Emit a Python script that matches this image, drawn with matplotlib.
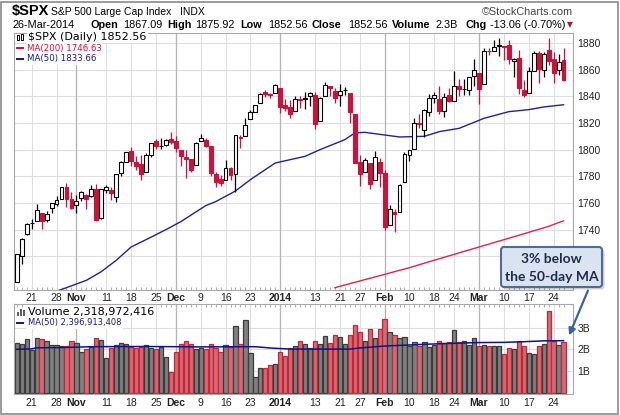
import numpy as np
import pandas as pd
import matplotlib
matplotlib.use("Agg")
import matplotlib.pyplot as plt
from matplotlib.patches import FancyBboxPatch, Rectangle, FancyArrowPatch
from matplotlib.transforms import IdentityTransform

plt.rcParams['font.family'] = ['Liberation Sans', 'DejaVu Sans']

# trading days on the chart (exchange holidays removed)
holidays = ['2013-11-28', '2013-12-25', '2014-01-01', '2014-01-20', '2014-02-17']
dates = pd.bdate_range('2013-10-16', '2014-03-26')
dates = dates[~dates.isin(pd.to_datetime(holidays))]

prev_close = 1698.06  # close of the day before the first bar

opens = [1700.49, 1720.17, 1736.72, 1745.20, 1746.48, 1752.27, 1747.48, 1756.01, 1759.42, 1762.93,
         1772.27, 1763.24, 1758.70, 1763.40, 1765.67, 1765.00, 1770.74, 1748.37, 1769.96, 1769.51,
         1764.37, 1782.75, 1790.66, 1798.82, 1790.79, 1789.59, 1783.52, 1796.19, 1806.33, 1802.87,
         1803.48, 1808.01, 1806.55, 1800.10, 1794.15, 1792.82, 1788.36, 1806.21, 1807.60, 1802.76,
         1781.71, 1777.98, 1777.48, 1786.47, 1781.46, 1809.00, 1810.39, 1822.92, 1828.02, 1834.96,
         1842.97, 1841.47, 1842.61, 1845.86, 1833.21, 1832.31, 1828.71, 1837.90, 1839.00, 1840.06,
         1841.26, 1821.36, 1840.52, 1847.99, 1844.23, 1841.05, 1844.71, 1842.29, 1826.96, 1791.03,
         1783.00, 1790.15, 1777.17, 1790.88, 1782.68, 1743.82, 1753.38, 1752.99, 1776.01, 1796.20,
         1800.45, 1820.12, 1814.82, 1828.46, 1839.03, 1838.22, 1829.24, 1841.07, 1836.78, 1847.66,
         1845.79, 1844.90, 1855.12, 1857.68, 1849.23, 1874.05, 1874.18, 1878.52, 1877.86, 1878.26,
         1866.15, 1869.06, 1845.07, 1842.81, 1858.92, 1872.25, 1860.09, 1874.53, 1867.67, 1859.48,
         1867.09]
highs = [1721.76, 1733.45, 1745.31, 1747.79, 1759.33, 1752.27, 1753.94, 1759.82, 1764.99, 1772.09,
         1775.22, 1768.53, 1765.67, 1768.78, 1767.03, 1773.74, 1774.54, 1770.78, 1773.44, 1771.78,
         1782.00, 1791.53, 1798.22, 1802.33, 1795.51, 1795.73, 1797.16, 1804.84, 1808.10, 1808.42,
         1808.27, 1813.55, 1810.02, 1800.10, 1799.80, 1792.82, 1806.04, 1811.52, 1808.52, 1802.97,
         1782.99, 1780.92, 1792.22, 1786.77, 1811.08, 1810.88, 1823.75, 1829.75, 1833.32, 1842.84,
         1844.89, 1842.47, 1849.44, 1845.86, 1838.24, 1837.16, 1840.10, 1840.02, 1843.23, 1843.15,
         1843.45, 1839.26, 1850.84, 1847.99, 1846.04, 1849.31, 1846.87, 1842.29, 1826.96, 1795.98,
         1793.87, 1790.15, 1798.77, 1793.88, 1784.83, 1758.73, 1755.79, 1774.06, 1798.03, 1799.94,
         1823.54, 1826.55, 1830.25, 1841.65, 1842.87, 1847.50, 1842.79, 1846.13, 1858.71, 1852.91,
         1852.65, 1854.53, 1867.92, 1857.68, 1876.23, 1876.53, 1881.94, 1883.57, 1877.87, 1882.35,
         1868.38, 1874.40, 1852.44, 1862.30, 1873.76, 1874.14, 1873.49, 1883.97, 1873.34, 1871.87,
         1875.92]
lows = [1700.49, 1714.12, 1735.74, 1740.67, 1746.48, 1740.50, 1745.50, 1752.45, 1757.67, 1762.93,
        1757.24, 1755.72, 1752.70, 1761.56, 1755.76, 1764.23, 1746.20, 1747.63, 1767.85, 1762.29,
        1760.64, 1780.22, 1790.66, 1788.00, 1784.72, 1777.23, 1783.52, 1794.70, 1800.58, 1800.77,
        1802.77, 1803.98, 1798.60, 1787.85, 1779.09, 1783.38, 1788.36, 1806.21, 1801.75, 1780.09,
        1772.28, 1772.45, 1777.48, 1777.05, 1767.99, 1801.35, 1810.25, 1822.92, 1828.02, 1834.96,
        1839.81, 1838.77, 1842.41, 1827.74, 1829.13, 1823.73, 1828.71, 1831.40, 1830.38, 1832.43,
        1815.52, 1821.36, 1840.52, 1840.30, 1835.23, 1832.38, 1840.88, 1820.06, 1790.29, 1772.88,
        1783.00, 1770.45, 1777.17, 1772.26, 1739.66, 1743.82, 1737.92, 1752.99, 1776.01, 1791.83,
        1800.41, 1815.97, 1809.22, 1825.59, 1835.01, 1826.99, 1824.58, 1835.60, 1836.78, 1840.19,
        1840.66, 1841.13, 1847.67, 1834.44, 1849.23, 1871.11, 1874.18, 1870.56, 1867.04, 1863.88,
        1854.38, 1841.86, 1839.57, 1842.81, 1858.92, 1850.35, 1854.63, 1863.46, 1849.69, 1855.96,
        1852.56]
closes = [1721.54, 1733.15, 1744.50, 1744.66, 1754.67, 1746.38, 1752.07, 1759.77, 1762.11, 1771.95,
          1763.31, 1756.54, 1761.64, 1767.93, 1762.97, 1770.49, 1747.15, 1770.61, 1771.89, 1767.69,
          1782.00, 1790.62, 1798.18, 1791.53, 1787.87, 1781.37, 1795.85, 1804.76, 1802.48, 1802.75,
          1807.23, 1805.81, 1800.90, 1795.15, 1792.81, 1785.03, 1805.09, 1808.37, 1802.62, 1782.22,
          1775.50, 1775.32, 1786.54, 1781.00, 1810.65, 1809.60, 1818.32, 1827.99, 1833.32, 1842.02,
          1841.40, 1841.07, 1848.36, 1831.98, 1831.37, 1826.77, 1837.88, 1837.49, 1838.13, 1842.37,
          1819.20, 1838.88, 1848.38, 1845.89, 1838.70, 1843.80, 1844.86, 1828.46, 1790.29, 1781.56,
          1792.50, 1774.20, 1794.19, 1782.59, 1741.89, 1755.20, 1751.64, 1773.43, 1797.02, 1799.84,
          1819.75, 1819.26, 1829.83, 1838.63, 1840.76, 1828.75, 1839.78, 1836.25, 1847.61, 1845.12,
          1845.16, 1854.29, 1859.45, 1845.73, 1873.91, 1873.81, 1877.03, 1878.04, 1877.17, 1867.63,
          1868.20, 1846.34, 1841.13, 1858.83, 1872.25, 1860.77, 1872.01, 1866.52, 1857.44, 1865.62,
          1852.56]
# volume in billions of shares
volume = [2.29, 2.23, 2.47, 1.97, 2.51, 2.46, 2.40, 2.18, 2.18, 2.14,
          2.15, 2.37, 2.28, 1.86, 2.00, 2.10, 2.51, 2.41, 1.59, 2.06,
          2.18, 2.27, 2.24, 2.12, 2.07, 2.11, 2.22, 2.05, 2.00, 2.12,
          1.63, 0.95, 1.86, 2.26, 2.37, 2.26, 2.00, 2.06, 2.00, 2.23,
          2.05, 1.86, 2.18, 2.11, 3.06, 2.23, 3.34, 1.82, 0.71, 1.12,
          1.12, 1.26, 1.31, 1.86, 1.69, 2.07, 2.14, 2.37, 2.23, 2.07,
          2.37, 2.23, 2.60, 2.28, 2.65, 2.55, 2.23, 2.65, 3.11, 2.78,
          2.37, 2.92, 2.51, 2.92, 3.38, 2.78, 2.65, 2.51, 2.55, 2.14,
          2.32, 2.14, 2.32, 2.09, 2.18, 2.37, 2.28, 2.32, 2.88, 2.32,
          2.37, 2.18, 2.51, 2.14, 2.18, 2.14, 2.14, 2.14, 1.78, 2.05,
          2.00, 2.37, 2.14, 1.82, 1.77, 2.14, 2.23, 3.75, 2.37, 2.18,
          2.319]

ma200_dates = ['2014-01-17', '2014-01-24', '2014-01-29', '2014-02-04', '2014-02-10', '2014-02-14',
               '2014-02-24', '2014-03-03', '2014-03-10', '2014-03-17', '2014-03-21', '2014-03-26']
ma200_vals = [1696.5, 1700.5, 1703.5, 1707.5, 1711.5, 1716.0, 1721.5, 1727.0, 1732.5, 1738.0, 1742.5, 1746.63]

ma50_dates = ['2013-10-25', '2013-10-30', '2013-11-05', '2013-11-08', '2013-11-13', '2013-11-18',
              '2013-11-21', '2013-11-27', '2013-12-03', '2013-12-10', '2013-12-12', '2013-12-18',
              '2013-12-23', '2013-12-31', '2014-01-09', '2014-01-14', '2014-01-22', '2014-01-24',
              '2014-01-28', '2014-02-03', '2014-02-06', '2014-02-13', '2014-02-19', '2014-02-25',
              '2014-03-04', '2014-03-11', '2014-03-17', '2014-03-20', '2014-03-26']
ma50_vals = [1692.5, 1696.5, 1702.0, 1708.5, 1717.0, 1727.0, 1732.5, 1740.0, 1746.0, 1758.0,
             1761.0, 1769.0, 1777.5, 1790.0, 1795.0, 1800.0, 1807.5, 1812.5, 1813.0, 1811.0,
             1809.5, 1810.0, 1813.5, 1816.0, 1823.5, 1828.5, 1830.0, 1832.0, 1833.66]

vol_ma_dates = ['2013-10-16', '2013-10-21', '2013-10-22', '2013-10-29', '2013-11-06', '2013-11-21',
                '2013-12-09', '2013-12-24', '2013-12-30', '2014-01-06', '2014-01-23', '2014-01-27',
                '2014-02-03', '2014-02-07', '2014-02-13', '2014-02-24', '2014-03-03', '2014-03-10',
                '2014-03-14', '2014-03-20', '2014-03-26']
vol_ma_vals = [2.00, 2.02, 2.07, 2.08, 2.12, 2.13, 2.11, 2.12, 2.06, 2.01, 2.01, 2.06,
               2.15, 2.19, 2.23, 2.28, 2.31, 2.32, 2.35, 2.39, 2.397]

tick_dates = ['2013-10-21', '2013-10-28', '2013-11-01', '2013-11-11', '2013-11-18', '2013-11-25',
              '2013-12-02', '2013-12-09', '2013-12-16', '2013-12-23', '2014-01-02', '2014-01-13',
              '2014-01-21', '2014-01-27', '2014-02-03', '2014-02-10', '2014-02-18', '2014-02-24',
              '2014-03-03', '2014-03-10', '2014-03-17', '2014-03-24']
tick_labels = ['21', '28', 'Nov', '11', '18', '25', 'Dec', '9', '16', '23', '2014', '13',
               '21', '27', 'Feb', '10', '18', '24', 'Mar', '10', '17', '24']
bold_labels = ['Nov', 'Dec', '2014', 'Feb', 'Mar']

price_ticks = [1720, 1740, 1760, 1780, 1800, 1820, 1840, 1860, 1880]
price_labels = ['', '1740', '1760', '1780', '1800', '1820', '1840', '1860', '1880']  # 1720 sits under the callout

header = [('26-Mar-2014', 'normal'), ('Open', 'bold'), ('1867.09', 'normal'), ('High', 'bold'),
          ('1875.92', 'normal'), ('Low', 'bold'), ('1852.56', 'normal'), ('Close', 'bold'),
          ('1852.56', 'normal'), ('Volume', 'bold'), ('2.3B', 'normal'), ('Chg', 'bold'),
          ('-13.06 (-0.70%)', 'normal')]
header_x = [12.7, 91, 123, 167, 195, 240, 268, 312, 348, 392, 436, 466, 490]

W, H = 620, 415
fig = plt.figure(figsize=(W / 100, H / 100), dpi=100)


def rect(l, t, r, b):
    return [l / W, 1 - b / H, (r - l) / W, (b - t) / H]


def ftext(px, py, s, **kw):
    return fig.text(px / W, 1 - py / H, s, **kw)


def fpatch(p):
    p.set_transform(IdentityTransform())
    fig.add_artist(p)


ax = fig.add_axes(rect(14, 32.7, 573, 290))
axv = fig.add_axes(rect(14, 304, 573, 394.3))

x = np.arange(len(dates))
o, h, l, c = (np.array(v) for v in (opens, highs, lows, closes))
pc = np.r_[prev_close, c[:-1]]
down = c < pc
RED = '#d0103a'
col = np.where(down, RED, '#000000')
face = np.where(c > o, '#ffffff', col)

# candles
ax.vlines(x, l, h, colors=col, lw=0.9, zorder=3)
ax.bar(x, np.maximum(np.abs(c - o), 0.3), bottom=np.minimum(o, c), width=0.78,
       color=face, edgecolor=col, linewidth=0.8, zorder=4)

# moving averages
p200 = dates.get_indexer(pd.to_datetime(ma200_dates))
ax.plot(p200, ma200_vals, color='#dc2450', lw=1.0, zorder=2)
p50 = dates.get_indexer(pd.to_datetime(ma50_dates))
ax.plot(p50, ma50_vals, color='#22228f', lw=1.0, zorder=2)
ax.set_ylim(1694.75, 1887.7)
ax.set_yticks(price_ticks)
ax.set_yticklabels(price_labels)

# volume
vface = np.where(down, '#d46b74', '#808080')
vedge = np.where(down, '#c3283a', '#3c3c3c')
axv.bar(x, volume, width=0.86, color=vface, edgecolor=vedge, linewidth=0.9, zorder=2)
pv = dates.get_indexer(pd.to_datetime(vol_ma_dates))
axv.plot(pv, vol_ma_vals, color='#12128a', lw=1.1, zorder=3)
axv.set_ylim(-0.074, 4.088)
axv.set_yticks([1, 2, 3])
axv.set_yticklabels(['1B', '2B', '3B'])

tpos = dates.get_indexer(pd.to_datetime(tick_dates))
for a in (ax, axv):
    a.set_xlim(-0.56, 111.9)
    a.set_xticks(tpos)
    a.set_xticklabels(tick_labels)
    for t in a.get_xticklabels():
        if t.get_text() in bold_labels:
            t.set_fontweight('bold')
    a.set_xticks(x, minor=True)
    a.tick_params(axis='x', which='major', length=0, pad=2.5, labelsize=7.5, labelcolor='#222222')
    a.tick_params(axis='x', which='minor', direction='in', length=2, width=0.6, color='#a0a0a0')
    a.yaxis.tick_right()
    a.tick_params(axis='y', length=0, pad=3, labelsize=7.5, labelcolor='#222222')
    a.grid(True, which='major', color='#dedede', lw=0.8)
    a.set_axisbelow(True)
    for p, lab in zip(tpos, tick_labels):
        if lab in bold_labels:
            a.axvline(p, color='#b4b4b4', lw=0.9, zorder=0.6)
    for s in a.spines.values():
        s.set_color('#a8a8a8')
        s.set_linewidth(0.8)
axv.tick_params(axis='x', which='minor', top=True)

# header
ftext(12, 11.5, '\\$SPX', fontsize=10.5, fontweight='bold', va='center')
ftext(51, 12, 'S&P 500 Large Cap Index', fontsize=7.5, va='center')
ftext(180, 12, 'INDX', fontsize=7.5, va='center')
ftext(573, 12, '\u00a9StockCharts.com', fontsize=7.8, va='center', ha='right', color='#444444')
for (s, w), px in zip(header, header_x):
    ftext(px, 24.5, s, fontsize=7.8, fontweight=w, va='center')
ftext(570, 24.5, '\u25bc', fontsize=5.5, va='center', ha='center', color='#a01838', family='DejaVu Sans')

# legends
wb = dict(fc='white', ec='none', pad=1.0)
ftext(28, 36.7, '\\$SPX (Daily) 1852.56', fontsize=8, va='center', family='DejaVu Sans', bbox=wb)
ftext(27, 48, 'MA(200) 1746.63', fontsize=6.2, va='center', color='#cc1040', family='DejaVu Sans', bbox=wb)
ftext(27, 59, 'MA(50) 1833.66', fontsize=6.2, va='center', color='#1a1a88', family='DejaVu Sans', bbox=wb)
ftext(27.7, 311.7, 'Volume 2,318,972,416', fontsize=8, va='center', family='DejaVu Sans', bbox=wb)
ftext(27.7, 322.7, 'MA(50) 2,396,913,408', fontsize=6, va='center', color='#1a1a88', family='DejaVu Sans', bbox=wb)
for py, cc in [(48, '#cc1040'), (59, '#1a1a88'), (322.7, '#1a1a88')]:
    fpatch(Rectangle((16, H - py - 1), 8, 2, fc=cc, ec='none'))
# little candle icon and volume icon
for bx, by, bh in [(16.5, 34.5, 5), (20.5, 33.5, 6)]:
    fpatch(Rectangle((bx, H - by - bh), 2.2, bh, fc='white', ec='black', lw=0.7))
for bx, bh in [(17, 4), (20, 7), (23, 5.5)]:
    fpatch(Rectangle((bx, H - 315.5), 2, bh, fc='#606060', ec='none'))

# callout
fpatch(FancyBboxPatch((503.5, H - 289.5), 101, 40, boxstyle='round,pad=0,rounding_size=3',
                      fc='#000000', ec='none', alpha=0.18))
fpatch(FancyBboxPatch((501, H - 287), 101, 40, boxstyle='round,pad=0,rounding_size=3',
                      fc='#dae4f1', ec='#4d6d99', lw=1.5))
ftext(551.5, 259, '3% below', fontsize=10, fontweight='bold', ha='center', va='center',
      color='#1d2b4f', family='Lato')
ftext(551.5, 277, 'the 50-day MA', fontsize=10, fontweight='bold', ha='center', va='center',
      color='#1d2b4f', family='Lato')
fpatch(FancyArrowPatch((589, H - 288), (568, H - 338), arrowstyle='-|>', mutation_scale=10,
                       color='#3a62a0', lw=1.6))

# outer frame
fpatch(Rectangle((1, 1.5), 617, 412, fill=False, ec='#8a8a8a', lw=1.2))

fig.savefig('out.png', dpi=100)
